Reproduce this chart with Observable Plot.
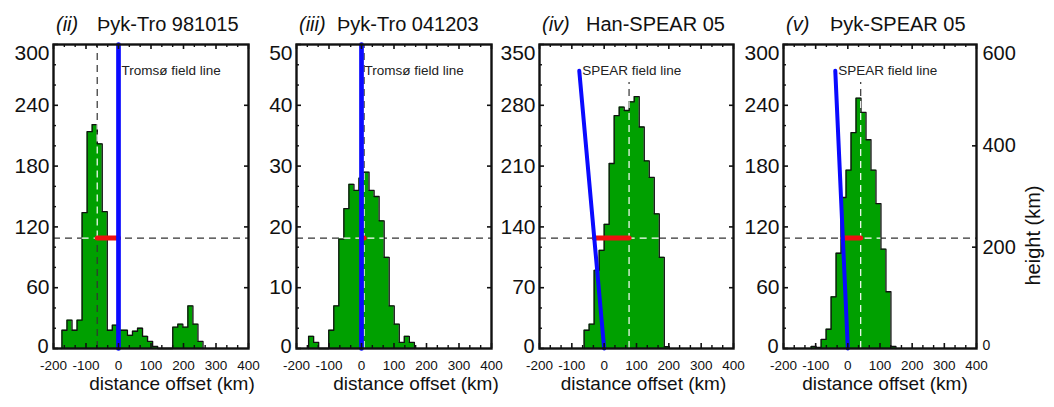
<!DOCTYPE html>
<html>
<head>
<meta charset="utf-8">
<script src="https://cdn.jsdelivr.net/npm/d3@7"></script>
<script src="https://cdn.jsdelivr.net/npm/@observablehq/plot@0.6"></script>
<style>
  body { margin: 0; background: #fff; }
  #fig { position: relative; width: 1054px; height: 407px; overflow: hidden; background: #fff;
         font-family: "Liberation Sans", Arial, sans-serif; color: #111; }
  .panel { position: absolute; top: 0; }
  .title { position: absolute; top: 14px; font-size: 20px; line-height: 20px; white-space: pre; }
</style>
</head>
<body>
<div id="fig"></div>
<script>
// ---------------- data ----------------
const romanNumerals = ["(ii)", "(iii)", "(iv)", "(v)"];
const panelNames = ["Þyk-Tro 981015", "Þyk-Tro 041203", "Han-SPEAR 05", "Þyk-SPEAR 05"];
const fieldLabels = ["Tromsø field line", "Tromsø field line", "SPEAR field line", "SPEAR field line"];
const xLabel = "distance offset (km)";
const heightLabel = "height (km)";

const xTicks = [-200, -100, 0, 100, 200, 300, 400];
const yTicks1 = [0, 60, 120, 180, 240, 300];
const yTicks2 = [0, 10, 20, 30, 40, 50];
const yTicks3 = [0, 70, 140, 210, 280, 350];
const yTicks4 = [0, 60, 120, 180, 240, 300];
const heightTicks = [0, 200, 400, 600];

// histogram bins (km): left edge of first bin, common bin width
const binWidth = 15.5;
const binStart = [-174, -162.75, -62, -114];
const counts1 = [18, 28, 18, 28, 134, 214, 221, 202, 135, 18, 23, 18, 18, 13, 17, 20, 12, 7, 2, 0, 0, 0, 21, 24, 21, 42, 24, 7];
const counts2 = [2, 1, 0, 0, 3, 7, 18, 23, 27, 26, 28, 29, 26, 25, 21, 15, 7, 4, 1, 2, 1];
const counts3 = [21, 28, 90, 113, 143, 213, 268, 278, 274, 284, 290, 255, 216, 197, 155, 105, 2];
const counts4 = [2, 1, 9, 19, 51, 94, 149, 176, 213, 247, 233, 206, 176, 143, 98, 56, 2];

// peak offset (dashed vertical, km) and its top height (km)
const peakOffset = [-65.5, 8, 77, 40];
const peakLineTop = [600, 600, 525, 525];
// field line: bottom at (0 km, 0 km height), top at (offset, height)
const fieldTopOffset = [0, 0, -77, -39];
const fieldTopHeight = [600, 600, 548, 548];
const labelHeight = 548;
const refHeight = 218;     // reference height (km) of dashed horizontal
const heightMax = 600;

// ---------------- layout / style ----------------
const frameLeft = [53, 296, 539, 783];
const frameWidth = [195, 195, 194, 193];
const nameOffset = [44, 41, 47, 47];
const xLabelShift = [21, 22, 7, 5];
const FRAME_TOP = 44, FRAME_BOTTOM = 348, H = 407, ML = 50;
const GREEN = "#00a000", BLUE = "#0a0aff", RED = "#f01010", INK = "#111", DASH = "7,5";
const FONT = "Liberation Sans, Arial, sans-serif";

const yTicksList = [yTicks1, yTicks2, yTicks3, yTicks4];
const countsList = [counts1, counts2, counts3, counts4];

const fig = document.getElementById("fig");

function makePanel(i) {
  const yt = yTicksList[i];
  const ymax = yt[yt.length - 1];
  const step = yt[1] - yt[0];
  const toY = h => h * ymax / heightMax;
  const W = frameWidth[i];
  const IH = FRAME_BOTTOM - FRAME_TOP;
  const last = i === 3;
  const MR = last ? 79 : 10;

  const bins = countsList[i].map((c, k) => ({
    x1: binStart[i] + k * binWidth, x2: binStart[i] + (k + 1) * binWidth, c
  }));
  const outline = [{x: bins[0].x1, y: 0}, ...bins.map(b => ({x: b.x1, y: b.c})), {x: bins[bins.length - 1].x2, y: 0}];
  const level = toY(refHeight);
  const ranges = [];
  bins.forEach(b => {
    if (b.c > level) {
      const r = ranges[ranges.length - 1];
      if (r && Math.abs(r.x2 - b.x1) < 1e-6) r.x2 = b.x2; else ranges.push({x1: b.x1, x2: b.x2});
    }
  });
  const countAt = x => {
    const k = Math.floor((x - binStart[i]) / binWidth);
    return bins[k] ? bins[k].c : 0;
  };
  const dashX = peakOffset[i];
  const whiteTop = Math.max(countAt(dashX - 0.5), countAt(dashX + 0.5));
  const whiteLo = i === 0 ? level : 0;
  const topX = fieldTopOffset[i], topY = toY(fieldTopHeight[i]);
  const redStart = topX * level / topY;

  const isMajorX = v => Math.abs(v / 100 - Math.round(v / 100)) < 1e-6;
  const minorX = d3.range(-200, 400.01, 100 / 3).filter(v => !isMajorX(v));
  const minorY = d3.range(0, ymax + 1e-6, step / 3).filter(v => Math.abs(v / step - Math.round(v / step)) > 1e-6);
  const innerY = yt.filter(v => v > 0 && v < ymax);

  const dashStyle = {stroke: "#333", strokeWidth: 1.2, strokeDasharray: DASH};
  const marks = [
    Plot.ruleY([level], {y: d => d, ...dashStyle}),
    Plot.ruleX([dashX], {x: d => d, y1: 0, y2: toY(peakLineTop[i]), ...dashStyle}),
    Plot.areaY(outline, {x: "x", y: "y", curve: "step-after", fill: GREEN}),
    Plot.line(outline, {x: "x", y: "y", curve: "step-after", stroke: INK, strokeWidth: 1.3}),
    Plot.ruleY(ranges, {x1: "x1", x2: "x2", y: () => level, stroke: "white", strokeWidth: 1.2, strokeDasharray: DASH}),
    Plot.ruleX([dashX], {x: d => d, y1: whiteLo, y2: whiteTop, stroke: "white", strokeWidth: 1.2, strokeDasharray: DASH}),
  ];
  if (i === 0) marks.push(Plot.ruleX([dashX], {x: d => d, y1: 0, y2: level, ...dashStyle}));
  marks.push(
    Plot.line([{x: redStart, y: level}, {x: dashX, y: level}], {x: "x", y: "y", stroke: RED, strokeWidth: 5, strokeLinecap: "round"}),
    Plot.line([{x: 0, y: 0}, {x: topX, y: topY}], {x: "x", y: "y", stroke: BLUE, strokeWidth: topX === 0 ? 4.7 : 4}),
    Plot.text([fieldLabels[i]], {x: () => topX, y: () => toY(labelHeight), text: d => d, textAnchor: "start", dx: 3,
      fontSize: 13.5, fill: "#222", fontFamily: FONT}),
    // ticks: left (major + minor), top/bottom (major + minor), right
    Plot.tickY(yt, {y: d => d, insetRight: W - 5, stroke: INK, strokeWidth: 1.6}),
    Plot.tickY(minorY, {y: d => d, insetRight: W - 3, stroke: INK, strokeWidth: 1.4}),
    Plot.tickX(xTicks, {x: d => d, insetTop: IH - 5, stroke: INK, strokeWidth: 1.6}),
    Plot.tickX(minorX, {x: d => d, insetTop: IH - 3, stroke: INK, strokeWidth: 1.4}),
    Plot.tickX(xTicks, {x: d => d, insetBottom: IH - 5, stroke: INK, strokeWidth: 1.6}),
    Plot.tickX(minorX, {x: d => d, insetBottom: IH - 3, stroke: INK, strokeWidth: 1.4}),
    last
      ? Plot.tickY(heightTicks.filter(h => h > 0 && h < heightMax), {y: h => toY(h), insetLeft: W - 4, stroke: INK, strokeWidth: 1.6})
      : Plot.tickY(innerY, {y: d => d, insetLeft: W - 4, stroke: INK, strokeWidth: 1.6}),
    Plot.frame({stroke: INK, strokeWidth: 2.4}),
    // left tick labels
    Plot.text(yt.filter(v => v > 0 && v < ymax), {y: d => d, text: d => String(d), frameAnchor: "left", textAnchor: "end", dx: -4,
      fontSize: 21, fill: INK, fontFamily: FONT}),
    Plot.text([0], {y: d => d, text: d => String(d), frameAnchor: "left", textAnchor: "end", dx: -5, dy: -2,
      fontSize: 20, fill: INK, fontFamily: FONT}),
    Plot.text([ymax], {y: d => d, text: d => String(d), frameAnchor: "left", textAnchor: "end", dx: -4, dy: 1, lineAnchor: "top",
      fontSize: 21, fill: INK, fontFamily: FONT}),
    // bottom tick labels
    Plot.text(xTicks, {x: d => d, text: d => String(d), frameAnchor: "bottom", dy: 21, fontSize: 13.5, fill: INK, fontFamily: FONT}),
    Plot.text([xLabel], {text: d => d, frameAnchor: "bottom", dx: xLabelShift[i], dy: 41, fontSize: 19, fill: INK, fontFamily: FONT})
  );
  if (last) {
    marks.push(
      Plot.text(heightTicks.filter(h => h > 0 && h < heightMax), {y: h => toY(h), text: h => String(h), frameAnchor: "right",
        textAnchor: "start", dx: 6, fontSize: 20, fill: INK, fontFamily: FONT}),
      Plot.text([heightMax], {y: h => toY(h), text: h => String(h), frameAnchor: "right", textAnchor: "start", dx: 6, dy: 1,
        lineAnchor: "top", fontSize: 20, fill: INK, fontFamily: FONT}),
      Plot.text([0], {y: h => toY(h), text: h => String(h), frameAnchor: "right", textAnchor: "start", dx: 6, dy: -3,
        fontSize: 14, fill: INK, fontFamily: FONT}),
      Plot.text([heightLabel], {text: d => d, frameAnchor: "right", dx: 57, dy: -11, rotate: -90, fontSize: 20, fill: INK, fontFamily: FONT})
    );
  }

  const svg = Plot.plot({
    width: ML + W + MR, height: H,
    marginLeft: ML, marginRight: MR, marginTop: FRAME_TOP, marginBottom: H - FRAME_BOTTOM,
    x: {domain: [-200, 400], axis: null},
    y: {domain: [0, ymax], axis: null},
    style: {background: "transparent", overflow: "visible", maxWidth: "none", fontFamily: FONT},
    marks
  });
  const holder = document.createElement("div");
  holder.className = "panel";
  holder.style.left = (frameLeft[i] - ML) + "px";
  holder.appendChild(svg);
  fig.appendChild(holder);

  const t = document.createElement("div");
  t.className = "title";
  t.style.left = (frameLeft[i] + 3) + "px";
  const it = document.createElement("i");
  it.textContent = romanNumerals[i];
  t.appendChild(it);
  fig.appendChild(t);
  const n = document.createElement("div");
  n.className = "title";
  n.style.left = (frameLeft[i] + nameOffset[i]) + "px";
  n.textContent = panelNames[i];
  fig.appendChild(n);
}

for (let i = 0; i < 4; i++) makePanel(i);
</script>
</body>
</html>
